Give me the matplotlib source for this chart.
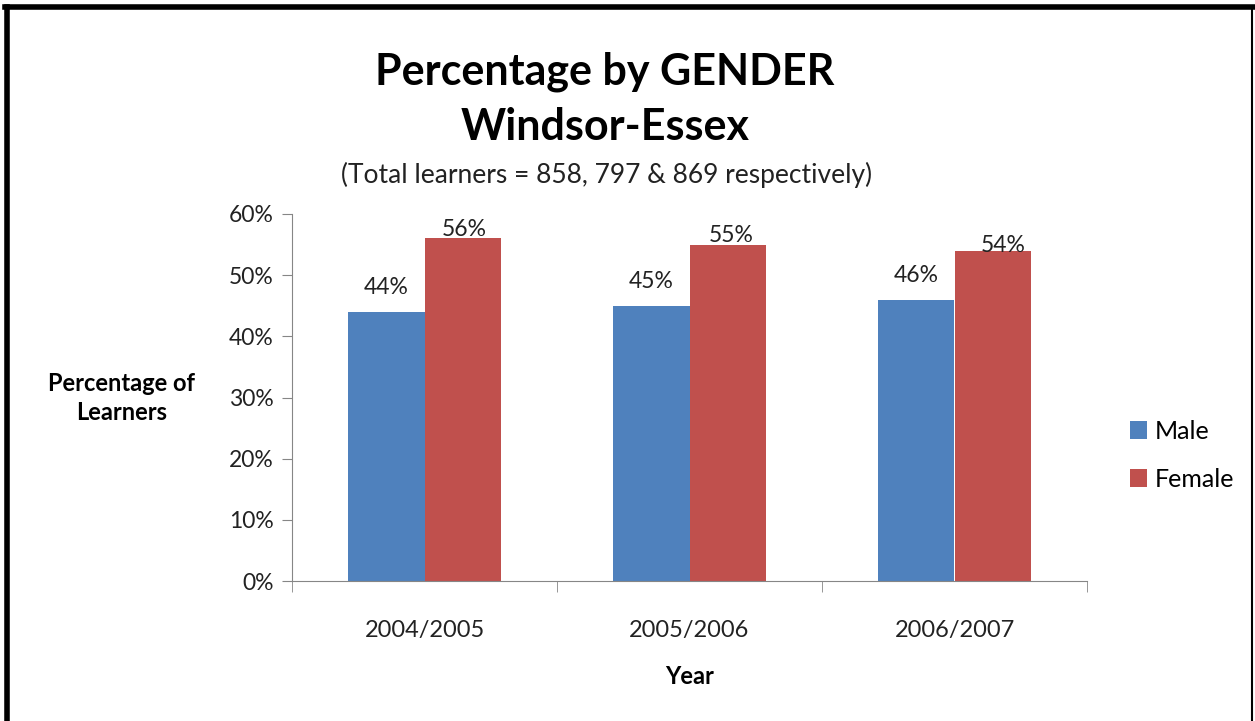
import matplotlib
matplotlib.use("Agg")
import numpy as np
import matplotlib.pyplot as plt
from matplotlib.lines import Line2D

years = ["2004/2005", "2005/2006", "2006/2007"]
male = [44, 45, 46]
female = [56, 55, 54]
yticks = [0, 10, 20, 30, 40, 50, 60]

blue = "#4F81BD"
red = "#C0504D"
gray = "#868686"

# label nudges in points (Excel pushes the tall labels down against the top)
male_dy = [13, 13, 13]
female_dx = [1, 3, 8]
female_dy = [2, 2, -0.7]

plt.rcParams['font.family'] = ['Lato', 'DejaVu Sans']

fig = plt.figure(figsize=(12.55, 7.21), dpi=100)
ax = fig.add_axes([292/1255, 1-581/721, (1087-292)/1255, (581-214)/721])

x = np.arange(len(years))
w = 0.287
b1 = ax.bar(x - w/2, male, w, color=blue, label="Male")
b2 = ax.bar(x + w/2, female, w, color=red, label="Female")

for r, v, dy in zip(b1, male, male_dy):
    ax.annotate("%d%%" % v, (r.get_x() + r.get_width()/2, v), xytext=(0, dy),
                textcoords="offset points", ha="center", va="baseline",
                fontsize=16.5, color="#222222")
for r, v, dx, dy in zip(b2, female, female_dx, female_dy):
    ax.annotate("%d%%" % v, (r.get_x() + r.get_width()/2, v), xytext=(dx, dy),
                textcoords="offset points", ha="center", va="baseline",
                fontsize=16.5, color="#222222", annotation_clip=False)

ax.set_xlim(-0.5, 2.5)
ax.set_ylim(0, 60)
ax.set_yticks(yticks)
ax.set_yticklabels(["%d%%" % t for t in yticks], fontsize=16.5, color="#222222")
ax.set_xticks(x)
ax.set_xticklabels(years, fontsize=17, color="#222222")
ax.tick_params(axis="x", length=0, pad=28)
ax.set_xticks(np.arange(-0.5, 3, 1), minor=True)
ax.tick_params(axis="x", which="minor", length=8, color=gray)
ax.tick_params(axis="y", length=7, color=gray, pad=6)
for s in ("top", "right"):
    ax.spines[s].set_visible(False)
ax.spines["left"].set_color(gray)
ax.spines["bottom"].set_color(gray)

fig.text(605/1255, 1-72/721, "Percentage by GENDER", ha="center", va="center",
         fontsize=31, fontweight="bold")
fig.text(605/1255, 1-127/721, "Windsor-Essex", ha="center", va="center",
         fontsize=31, fontweight="bold")
fig.text(607/1255, 1-175/721, "(Total learners = 858, 797 & 869 respectively)",
         ha="center", va="center", fontsize=19, color="#222222")
fig.text(122/1255, 1-398/721, "Percentage of\nLearners", ha="center", va="center",
         fontsize=17, fontweight="bold", linespacing=1.35)
fig.text(690/1255, 1-677/721, "Year", ha="center", va="center",
         fontsize=17, fontweight="bold")

fig.legend(handles=[b1, b2], labels=["Male", "Female"], loc="center left",
           bbox_to_anchor=(1107/1255, 1-455/721), frameon=False, fontsize=18,
           handlelength=0.7, handleheight=0.7, handletextpad=0.3, labelspacing=1.0)

# frame around the chart
fig.add_artist(Line2D([7/1255, 7/1255], [0, 1-7/721], color="black", lw=4))
fig.add_artist(Line2D([5/1255, 1253/1255], [1-7/721, 1-7/721], color="black", lw=4))
fig.add_artist(Line2D([1252/1255, 1252/1255], [0, 1-7/721], color="black", lw=1.5))

fig.savefig("out.png", dpi=100)
